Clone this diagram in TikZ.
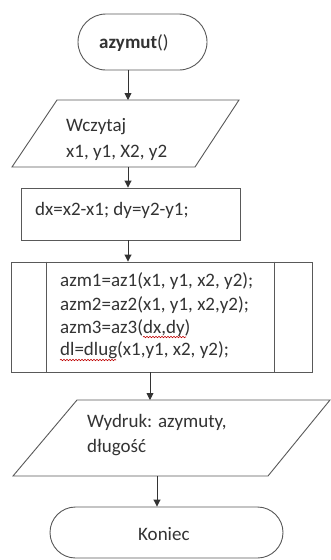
\documentclass[tikz,border=0pt]{standalone}
\usepackage{fontspec}
\setmainfont{Carlito}
\usetikzlibrary{arrows.meta,decorations.pathmorphing}
\begin{document}
\begin{tikzpicture}[x=1pt,y=-1pt,
  shapeline/.style={draw=black!65, line width=0.9pt},
  flow/.style={draw=black!80, line width=0.9pt, -{Triangle[width=7pt,length=7pt]}},
  txt/.style={anchor=base west, inner sep=0pt, text=black!80, font=\fontsize{19}{23}\selectfont},
  spell/.style={draw=red!75!black, line width=0.6pt, decorate, decoration={snake,amplitude=0.7pt,segment length=3pt}}]
\useasboundingbox (0,0) rectangle (331,560);
\fill[white] (0,0) rectangle (331,560);

% shapes
\node[shapeline, rounded corners=28pt, minimum width=129pt, minimum height=56pt, inner sep=0pt] (start) at (142.5,42) {};
\draw[shapeline] (57,100) -- (239,100) -- (195,167) -- (12,167) -- cycle;
\coordinate (p1top) at (128,100);
\coordinate (p1bot) at (128,167);
\node[shapeline, minimum width=219pt, minimum height=52pt, inner sep=0pt] (dxbox) at (130.5,214) {};
\node[shapeline, minimum width=301pt, minimum height=110pt, inner sep=0pt] (proc) at (161.5,317) {};
\draw[shapeline] ([xshift=36pt]proc.north west) -- ([xshift=36pt]proc.south west);
\draw[shapeline] ([xshift=-38pt]proc.north east) -- ([xshift=-38pt]proc.south east);
\coordinate (p2top) at (150,400);
\coordinate (p2bot) at (157,476);
\draw[shapeline] (77,400) -- (330,400) -- (268,476) -- (13,476) -- cycle;
\node[shapeline, rounded corners=25.5pt, minimum width=233pt, minimum height=51pt, inner sep=0pt] (stop) at (166.5,532.5) {};

% texts
\node[txt] (t0) at (99,48) {\textbf{azymut}()};
\node[txt] (t1) at (66,131) {Wczytaj};
\node[txt] (t2) at (66,157) {x1, y1, X2, y2};
\node[txt] (t3) at (35,215) {dx=x2-x1; dy=y2-y1;};
\node[txt] (t4) at (60,286) {azm1=az1(x1, y1, x2, y2);};
\node[txt] (t5) at (60,310) {azm2=az2(x1, y1, x2,y2);};
\node[txt] (t6) at (60,333) {azm3=az3(dx,dy)};
\node[txt] (t7) at (60,355) {dl=dlug(x1,y1, x2, y2);};
\node[txt] (t8) at (87,427) {Wydruk: azymuty,};
\node[txt] (t9) at (87,452) {długość};
\node[txt] (t10) at (138,540) {Koniec};

% spelling underlines
\draw[spell] (143,337) -- (186,337);
\draw[spell] (60,360) -- (116,360);

% connectors
\draw[flow] (start.south -| p1top) -- (p1top);
\draw[flow] (p1bot) -- (dxbox.north -| p1bot);
\draw[flow] (dxbox.south -| p1bot) -- (proc.north -| p1bot);
\draw[flow] (proc.south -| p2top) -- (p2top);
\draw[flow] (p2bot) -- (stop.north -| p2bot);
\end{tikzpicture}
\end{document}
